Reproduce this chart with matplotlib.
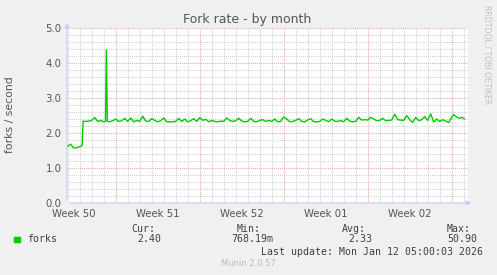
import numpy as np
import matplotlib
matplotlib.use("Agg")
import matplotlib.pyplot as plt

# days from the start of Week 51 (Mon), values in forks/s
days = [-4.00, -3.75, -3.50, -3.25, -3.00, -2.80, -2.72, -2.50, -2.25, -2.00,
        -1.75, -1.50, -1.25, -1.00, -0.85, -0.78, -0.70, -0.50, -0.25, 0.00,
        0.25, 0.50, 0.75, 1.00, 1.25, 1.50, 1.75, 2.00, 2.25, 2.50,
        2.75, 3.00, 3.25, 3.50, 3.75, 4.00, 4.25, 4.50, 4.75, 5.00,
        5.25, 5.50, 5.75, 6.00, 6.25, 6.50, 6.75, 7.00, 7.25, 7.50,
        7.75, 8.00, 8.25, 8.50, 8.75, 9.00, 9.25, 9.50, 9.75, 10.00,
        10.25, 10.50, 10.75, 11.00, 11.25, 11.50, 11.75, 12.00, 12.25, 12.50,
        12.75, 13.00, 13.25, 13.50, 13.75, 14.00, 14.25, 14.50, 14.75, 15.00,
        15.25, 15.50, 15.75, 16.00, 16.25, 16.50, 16.75, 17.00, 17.25, 17.50,
        17.75, 18.00, 18.25, 18.50, 18.75, 19.00, 19.25, 19.50, 19.75, 20.00,
        20.25, 20.50, 20.75, 21.00, 21.25, 21.50, 21.75, 22.00, 22.25, 22.50,
        22.75, 23.00, 23.25, 23.50, 23.75, 24.00, 24.25, 24.50, 24.75, 25.00,
        25.25, 25.50, 25.75, 26.00, 26.25, 26.50, 26.75, 27.00, 27.25, 27.50,
        27.75, 28.00, 28.15, 28.40, 28.65, 28.85, 29.05]
forks = [1.62, 1.68, 1.57, 1.58, 1.61, 1.64, 2.34, 2.33, 2.34, 2.36,
         2.44, 2.33, 2.36, 2.32, 2.33, 4.37, 2.34, 2.32, 2.35, 2.40,
         2.33, 2.35, 2.42, 2.33, 2.43, 2.32, 2.36, 2.33, 2.48, 2.34,
         2.33, 2.41, 2.36, 2.32, 2.35, 2.43, 2.32, 2.32, 2.32, 2.33,
         2.42, 2.33, 2.40, 2.32, 2.35, 2.41, 2.33, 2.44, 2.36, 2.39,
         2.32, 2.36, 2.33, 2.32, 2.34, 2.33, 2.43, 2.36, 2.33, 2.35,
         2.42, 2.34, 2.32, 2.33, 2.42, 2.33, 2.32, 2.36, 2.38, 2.33,
         2.36, 2.33, 2.40, 2.32, 2.33, 2.46, 2.40, 2.32, 2.33, 2.36,
         2.41, 2.33, 2.32, 2.37, 2.41, 2.32, 2.32, 2.33, 2.40, 2.36,
         2.32, 2.40, 2.34, 2.33, 2.36, 2.32, 2.42, 2.34, 2.32, 2.33,
         2.45, 2.37, 2.38, 2.37, 2.45, 2.40, 2.35, 2.36, 2.42, 2.35,
         2.36, 2.37, 2.54, 2.38, 2.37, 2.36, 2.50, 2.38, 2.30, 2.45,
         2.35, 2.38, 2.47, 2.36, 2.55, 2.31, 2.40, 2.33, 2.38, 2.34,
         2.30, 2.45, 2.53, 2.46, 2.42, 2.45, 2.40]

week_labels = ["Week 50", "Week 51", "Week 52", "Week 01", "Week 02"]
week_label_pos = [-3.5, 3.5, 10.5, 17.5, 24.5]
y_ticks = [0.0, 1.0, 2.0, 3.0, 4.0, 5.0]

legend_cols = [("Cur:", "2.40"), ("Min:", "768.19m"), ("Avg:", "2.33"), ("Max:", "50.90")]
legend_x = [(131.7, 137), (236.7, 231), (342.3, 348.3), (446.7, 447.3)]

W, H = 497, 275
fig = plt.figure(figsize=(W / 100, H / 100), dpi=100, facecolor="#F0F0F0")
ax = fig.add_axes([67 / W, 72 / H, 401 / W, 175 / H])
ax.set_facecolor("white")
ax.set_xlim(-4.058, 29.358)
ax.set_ylim(0, 5)

minor_c = "#d0d0d0"
major_c = "#e8a8a8"
dot = (0, (1, 1))
for d in range(-4, 30):
    if d % 7 == 0:
        ax.axvline(d, color=major_c, lw=0.75, ls=dot, zorder=1)
    else:
        ax.axvline(d, color=minor_c, lw=0.75, ls=dot, zorder=0)
for v in np.arange(0, 5.01, 0.2):
    if abs(v - round(v)) < 1e-6:
        ax.axhline(v, color=major_c, lw=0.75, ls=dot, zorder=1)
    else:
        ax.axhline(v, color=minor_c, lw=0.75, ls=dot, zorder=0)

ax.plot(days, forks, color="#00CC00", lw=1.0, zorder=3)

for s in ax.spines.values():
    s.set_visible(False)
axis_c = "#c4ccf4"
ax.annotate("", xy=(0, 1.045), xytext=(0, 0), xycoords="axes fraction",
            arrowprops=dict(arrowstyle="-|>", color=axis_c, lw=0.8, mutation_scale=7),
            annotation_clip=False)
ax.annotate("", xy=(1.015, 0), xytext=(0, 0), xycoords="axes fraction",
            arrowprops=dict(arrowstyle="-|>", color=axis_c, lw=0.8, mutation_scale=7),
            annotation_clip=False)

txt_c = "#555555"
ax.set_xticks(week_label_pos)
ax.set_xticklabels(week_labels, fontsize=7.3, color=txt_c)
ax.set_yticks(y_ticks)
ax.set_yticklabels([f"{v:.1f}" for v in y_ticks], fontsize=7.3, color=txt_c)
ax.tick_params(length=0, pad=4)

fig.text(247.5 / W, 1 - 19 / H, "Fork rate - by month", ha="center", va="center",
         fontsize=9, color=txt_c)
fig.text(10 / W, 1 - 115 / H, "forks / second", ha="center", va="center",
         rotation=90, fontsize=7.8, color=txt_c)
fig.text(487.5 / W, 1 - 5 / H, "RRDTOOL / TOBI OETIKER", ha="center", va="top",
         rotation=270, fontsize=5.6, color="#c0c0c0")

mono = "DejaVu Sans Mono"
leg_c = "#404040"
fig.patches.append(plt.Rectangle((14 / W, 1 - 242 / H), 5.5 / W, 5.5 / H,
                                 transform=fig.transFigure, color="#00CC00"))
fig.text(27 / W, 1 - 239.5 / H, "forks", ha="left", va="center",
         fontsize=7.1, family=mono, color=leg_c)
for (head, val), (hx, vx) in zip(legend_cols, legend_x):
    fig.text(hx / W, 1 - 228.5 / H, head, ha="left", va="center",
             fontsize=7.1, family=mono, color=leg_c)
    fig.text(vx / W, 1 - 239.5 / H, val, ha="left", va="center",
             fontsize=7.1, family=mono, color=leg_c)
fig.text(482.7 / W, 1 - 251.7 / H, "Last update: Mon Jan 12 05:00:03 2026",
         ha="right", va="center", fontsize=7.1, family=mono, color=leg_c)
fig.text(248.3 / W, 1 - 264 / H, "Munin 2.0.57", ha="center", va="center",
         fontsize=6, color="#bbbbbb")

fig.savefig("out.png", dpi=100, facecolor=fig.get_facecolor())
